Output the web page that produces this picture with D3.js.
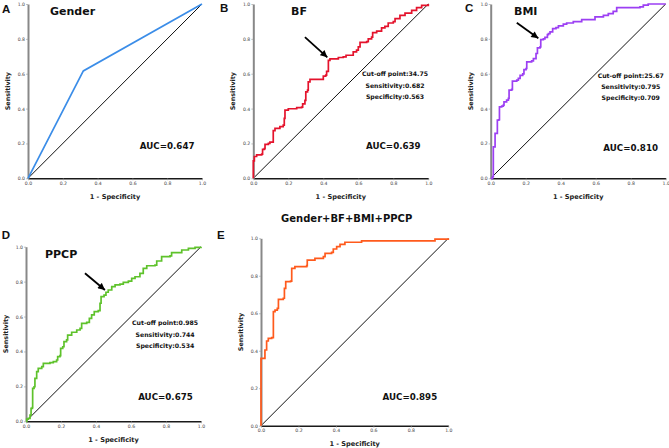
<!DOCTYPE html>
<html><head><meta charset="utf-8">
<script src="https://cdn.jsdelivr.net/npm/d3@7"></script>
<style>body{margin:0;background:#fff} svg{display:block}</style>
</head><body><svg id="c" width="669" height="448"></svg>
<script>
// ---------- data ----------
const ticks = [0, 0.2, 0.4, 0.6, 0.8, 1.0];
const tickLabels = ["0.0", "0.2", "0.4", "0.6", "0.8", "1.0"];

const panelLetters = ["A", "B", "C", "D", "E"];
const panelTitles = ["Gender", "BF", "BMI", "PPCP", "Gender+BF+BMI+PPCP"];
const aucLabels = ["AUC=0.647", "AUC=0.639", "AUC=0.810", "AUC=0.675", "AUC=0.895"];
const cutoffBF = ["Cut-off point:34.75", "Sensitivity:0.682", "Specificity:0.563"];
const cutoffBMI = ["Cut-off point:25.67", "Sensitivity:0.795", "Specificity:0.709"];
const cutoffPPCP = ["Cut-off point:0.985", "Sensitivity:0.744", "Specificity:0.534"];

const genderFpr = [0, 0.318, 1];
const genderTpr = [0, 0.616, 1];

const bfFpr = [0,0,0.006,0.019,0.048,0.053,0.063,0.067,0.086,0.095,0.114,0.114,0.124,0.152,0.171,0.177,0.181,0.200,0.248,0.276,0.282,0.295,0.300,0.310,0.314,0.324,0.390,0.400,0.414,0.419,0.429,0.429,0.438,0.476,0.486,0.514,0.530,0.562,0.571,0.590,0.600,0.610,0.648,0.657,0.676,0.682,0.705,0.733,0.752,0.771,0.800,0.810,0.838,0.867,0.905,0.933,0.962,1.0];
const bfTpr = [0,0.10,0.125,0.134,0.139,0.166,0.170,0.195,0.200,0.208,0.208,0.273,0.286,0.296,0.305,0.344,0.391,0.399,0.406,0.408,0.427,0.447,0.496,0.506,0.553,0.567,0.567,0.586,0.592,0.614,0.630,0.677,0.685,0.685,0.693,0.697,0.706,0.706,0.725,0.735,0.754,0.780,0.784,0.800,0.810,0.836,0.844,0.863,0.872,0.891,0.899,0.916,0.935,0.948,0.964,0.979,0.992,1.0];

const bmiFpr = [0,0.011,0.015,0.025,0.025,0.034,0.038,0.046,0.050,0.063,0.072,0.076,0.091,0.101,0.105,0.120,0.124,0.149,0.158,0.168,0.183,0.190,0.202,0.206,0.234,0.244,0.259,0.267,0.282,0.286,0.301,0.310,0.324,0.330,0.339,0.354,0.373,0.387,0.415,0.434,0.472,0.520,0.596,0.644,0.672,0.700,0.720,0.853,0.872,0.90,1.0];
const bmiTpr = [0,0.01,0.18,0.184,0.258,0.258,0.334,0.336,0.41,0.414,0.420,0.439,0.448,0.458,0.506,0.510,0.557,0.563,0.573,0.590,0.599,0.624,0.630,0.668,0.674,0.687,0.716,0.748,0.754,0.796,0.80,0.809,0.824,0.830,0.840,0.859,0.864,0.874,0.884,0.891,0.899,0.91,0.926,0.935,0.945,0.958,0.979,0.983,0.994,1.0,1.0];

const ppcpFpr = [0,0.004,0.013,0.023,0.029,0.036,0.038,0.046,0.051,0.061,0.070,0.090,0.099,0.137,0.156,0.175,0.181,0.194,0.198,0.210,0.217,0.232,0.238,0.261,0.290,0.309,0.318,0.347,0.362,0.375,0.390,0.413,0.423,0.429,0.446,0.457,0.470,0.490,0.509,0.537,0.556,0.585,0.604,0.623,0.651,0.670,0.690,0.737,0.747,0.775,0.823,0.832,0.890,0.928,0.966,1.0];
const ppcpTpr = [0,0.013,0.017,0.036,0.074,0.078,0.189,0.198,0.246,0.284,0.303,0.313,0.332,0.336,0.342,0.351,0.370,0.376,0.418,0.427,0.456,0.466,0.494,0.51,0.523,0.532,0.561,0.567,0.59,0.609,0.628,0.634,0.676,0.714,0.723,0.739,0.752,0.771,0.781,0.786,0.796,0.803,0.819,0.828,0.847,0.876,0.891,0.895,0.918,0.943,0.948,0.966,0.981,0.990,0.996,1.0];

const combFpr = [0,0,0.021,0.021,0.030,0.030,0.039,0.057,0.066,0.066,0.075,0.087,0.093,0.119,0.125,0.132,0.158,0.164,0.181,0.244,0.247,0.288,0.333,0.342,0.377,0.386,0.404,0.422,0.448,0.537,0.929,1.0];
const combTpr = [0,0.359,0.359,0.404,0.41,0.452,0.466,0.47,0.48,0.609,0.617,0.626,0.674,0.68,0.733,0.769,0.772,0.84,0.849,0.854,0.884,0.893,0.902,0.92,0.925,0.943,0.956,0.968,0.979,0.986,0.996,1.0];

// ---------- layout ----------
const FONT = "'DejaVu Sans', Lato, sans-serif";
const panels = [
  {x0:28, x1:202, y0:4, y1:178.3, fpr:genderFpr, tpr:genderTpr, color:"#3b8de8", step:false,
   letter:[2,12.7], title:[50,15,"start",11], auc:[0.80,0.168], cut:null, arrow:null},
  {x0:253.3, x1:428.3, y0:4, y1:178.3, fpr:bfFpr, tpr:bfTpr, color:"#e4132c", step:true,
   letter:[220,11.7], title:[291,15,"start",11], auc:[0.80,0.166], cut:{lines:cutoffBF, x:0.81, y:[0.587,0.52,0.453]},
   arrow:[0.295,0.81,0.423,0.694]},
  {x0:490.7, x1:665.7, y0:4, y1:178.3, fpr:bmiFpr, tpr:bmiTpr, color:"#9c3ff3", step:true,
   letter:[465,11.7], title:[514,15,"start",11], auc:[0.80,0.158], cut:{lines:cutoffBMI, x:0.80, y:[0.577,0.511,0.449]},
   arrow:[0.149,0.893,0.272,0.803]},
  {x0:26, x1:201, y0:246.7, y1:421.3, fpr:ppcpFpr, tpr:ppcpTpr, color:"#5ec22b", step:true,
   letter:[1.7,239], title:[45,258.3,"start",11], auc:[0.797,0.122], cut:{lines:cutoffPPCP, x:0.795, y:[0.552,0.485,0.418]},
   arrow:[0.337,0.848,0.451,0.752]},
  {x0:261, x1:448.3, y0:238.3, y1:425.7, fpr:combFpr, tpr:combTpr, color:"#ff5a1c", step:true,
   letter:[217,239], title:[346.7,221.7,"middle",10], auc:[0.795,0.137], cut:null, arrow:null}
];

const svg = d3.select("#c");
const defs = svg.append("defs");
defs.append("marker").attr("id","ah").attr("markerUnits","userSpaceOnUse")
  .attr("viewBox","0 0 10 10").attr("refX",10).attr("refY",5)
  .attr("markerWidth",8).attr("markerHeight",7).attr("orient","auto")
  .append("path").attr("d","M0,0 L10,5 L0,10 Z").attr("fill","#000");

panels.forEach((p, k) => {
  const x = d3.scaleLinear().domain([0,1]).range([p.x0, p.x1]);
  const y = d3.scaleLinear().domain([0,1]).range([p.y1, p.y0]);
  const g = svg.append("g");

  // reference diagonal
  g.append("line").attr("x1", x(0)).attr("y1", y(0)).attr("x2", x(1)).attr("y2", y(1))
    .attr("stroke", "#111").attr("stroke-width", 1);

  // axes
  const xa = g.append("g").attr("transform", `translate(0,${p.y1})`)
    .call(d3.axisBottom(x).tickValues(ticks).tickFormat((d,i)=>tickLabels[i]).tickSize(2).tickSizeOuter(0));
  xa.select(".domain").attr("stroke", "#1a1a1a").attr("stroke-width", 1.6);
  xa.selectAll(".tick line").attr("stroke", "#999").attr("stroke-width", 0.6);
  xa.selectAll(".tick text").attr("font-family", FONT).attr("font-size", 4.6).attr("fill", "#444")
    .attr("y", 3.5);

  const ya = g.append("g").attr("transform", `translate(${p.x0},0)`)
    .call(d3.axisLeft(y).tickValues(ticks).tickFormat((d,i)=>tickLabels[i]).tickSize(2).tickSizeOuter(0));
  ya.select(".domain").attr("stroke", "#888").attr("stroke-width", 2);
  ya.selectAll(".tick line").attr("stroke", "#999").attr("stroke-width", 0.6);
  ya.selectAll(".tick text").attr("font-family", FONT).attr("font-size", 4.6).attr("fill", "#444")
    .attr("x", -3);

  // ROC curve
  const pts = p.fpr.map((f, i) => [f, p.tpr[i]]);
  g.append("path").datum(pts)
    .attr("d", d3.line().x(d => x(d[0])).y(d => y(d[1])).curve(p.step ? d3.curveStepAfter : d3.curveLinear))
    .attr("fill", "none").attr("stroke", p.color).attr("stroke-width", 1.7)
    .attr("stroke-linejoin", "miter");

  // axis titles
  g.append("text").attr("x", (p.x0 + p.x1) / 2).attr("y", p.y1 + 20.5)
    .attr("text-anchor", "middle").attr("font-family", FONT).attr("font-weight", "bold")
    .attr("font-size", 6.6).attr("fill", "#222").text("1 - Specificity");
  g.append("text").attr("transform", `translate(${p.x0 - 18},${(p.y0 + p.y1) / 2}) rotate(-90)`)
    .attr("text-anchor", "middle").attr("font-family", FONT).attr("font-weight", "bold")
    .attr("font-size", 6.4).attr("fill", "#222").text("Sensitivity");

  // panel letter
  g.append("text").attr("x", p.letter[0]).attr("y", p.letter[1])
    .attr("font-family", "'Liberation Sans', Arial, sans-serif").attr("font-weight", "bold")
    .attr("font-size", 11.5).attr("fill", "#111").text(panelLetters[k]);

  // title
  g.append("text").attr("x", p.title[0]).attr("y", p.title[1]).attr("text-anchor", p.title[2])
    .attr("font-family", FONT).attr("font-weight", "bold").attr("font-size", p.title[3])
    .attr("fill", "#111").text(panelTitles[k]);

  // AUC
  g.append("text").attr("x", x(p.auc[0])).attr("y", y(p.auc[1])).attr("text-anchor", "middle")
    .attr("font-family", FONT).attr("font-weight", "bold").attr("font-size", 8.7)
    .attr("fill", "#111").text(aucLabels[k]);

  // cut-off text
  if (p.cut) {
    p.cut.lines.forEach((t, j) => {
      g.append("text").attr("x", x(p.cut.x)).attr("y", y(p.cut.y[j])).attr("text-anchor", "middle")
        .attr("font-family", FONT).attr("font-weight", "bold").attr("font-size", 6.2)
        .attr("fill", "#111").text(t);
    });
  }

  // arrow
  if (p.arrow) {
    g.append("line").attr("x1", x(p.arrow[0])).attr("y1", y(p.arrow[1]))
      .attr("x2", x(p.arrow[2])).attr("y2", y(p.arrow[3]))
      .attr("stroke", "#000").attr("stroke-width", 1.8).attr("marker-end", "url(#ah)");
  }
});
</script></body></html>
